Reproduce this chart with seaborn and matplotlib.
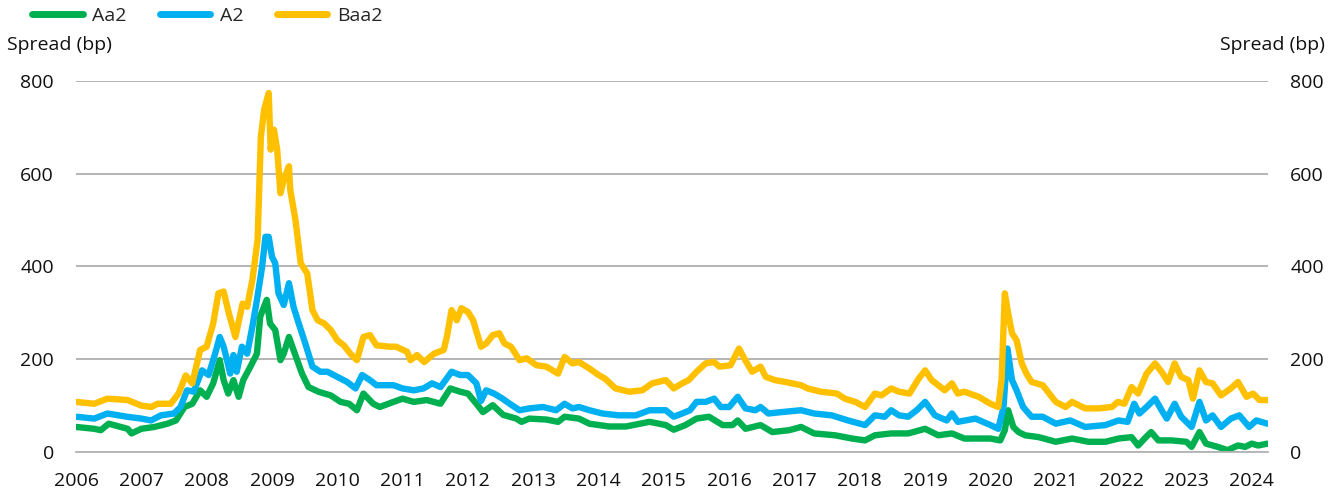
import pandas as pd
import matplotlib.pyplot as plt
import seaborn as sns

# Credit spreads by rating (years as decimals)
baa2_t = [2006.00, 2006.28, 2006.48, 2006.79, 2007.00, 2007.15, 2007.25, 2007.45, 2007.57, 2007.68,
          2007.78, 2007.90, 2008.00, 2008.10, 2008.18, 2008.26, 2008.34, 2008.44, 2008.55, 2008.62,
          2008.70, 2008.78, 2008.83, 2008.88, 2008.95, 2008.98, 2009.03, 2009.08, 2009.13, 2009.18,
          2009.26, 2009.28, 2009.36, 2009.44, 2009.54, 2009.62, 2009.70, 2009.80, 2009.90, 2010.00,
          2010.10, 2010.20, 2010.30, 2010.40, 2010.50, 2010.60, 2010.80, 2010.90, 2011.07, 2011.12,
          2011.22, 2011.33, 2011.48, 2011.63, 2011.68, 2011.75, 2011.83, 2011.90, 2012.00, 2012.08,
          2012.20, 2012.28, 2012.38, 2012.48, 2012.56, 2012.66, 2012.79, 2012.90, 2013.05, 2013.20,
          2013.38, 2013.48, 2013.60, 2013.70, 2013.86, 2014.00, 2014.10, 2014.26, 2014.47, 2014.67,
          2014.82, 2015.03, 2015.15, 2015.28, 2015.38, 2015.50, 2015.64, 2015.77, 2015.85, 2016.02,
          2016.15, 2016.23, 2016.35, 2016.48, 2016.56, 2016.70, 2016.86, 2017.10, 2017.20, 2017.40,
          2017.65, 2017.77, 2017.93, 2018.08, 2018.23, 2018.33, 2018.48, 2018.60, 2018.76, 2018.90,
          2019.00, 2019.10, 2019.30, 2019.41, 2019.50, 2019.60, 2019.82, 2020.00, 2020.12, 2020.17,
          2020.22, 2020.27, 2020.33, 2020.40, 2020.48, 2020.55, 2020.63, 2020.80, 2020.90, 2021.00,
          2021.15, 2021.25, 2021.45, 2021.66, 2021.86, 2021.95, 2022.05, 2022.16, 2022.26, 2022.39,
          2022.52, 2022.62, 2022.72, 2022.82, 2022.92, 2023.03, 2023.10, 2023.20, 2023.30, 2023.40,
          2023.53, 2023.68, 2023.79, 2023.92, 2024.02, 2024.12, 2024.24]
baa2_v = [108, 104, 115, 112, 100, 97, 104, 104, 126, 165,
          148, 220, 227, 277, 342, 346, 299, 248, 320, 313,
          371, 457, 680, 738, 774, 652, 695, 652, 558, 587,
          616, 565, 500, 407, 385, 306, 284, 277, 263, 241,
          230, 212, 198, 248, 252, 230, 227, 227, 216, 198,
          209, 194, 212, 220, 250, 306, 284, 310, 302, 284,
          227, 234, 252, 256, 234, 227, 198, 202, 187, 184,
          169, 205, 191, 194, 180, 166, 158, 137, 130, 133,
          148, 155, 137, 148, 155, 173, 191, 194, 184, 187,
          223, 202, 173, 184, 162, 155, 151, 144, 137, 130,
          126, 115, 108, 97, 126, 122, 137, 130, 126, 158,
          176, 155, 133, 148, 126, 130, 119, 104, 97, 155,
          342, 299, 256, 241, 191, 169, 151, 144, 126, 108,
          97, 108, 94, 94, 97, 108, 104, 140, 126, 169,
          191, 173, 151, 191, 162, 155, 115, 176, 151, 148,
          122, 137, 151, 119, 126, 112, 112]

a2_t = [2006.00, 2006.28, 2006.48, 2006.78, 2007.00, 2007.15, 2007.30, 2007.50, 2007.60, 2007.70,
        2007.80, 2007.93, 2008.03, 2008.13, 2008.20, 2008.26, 2008.30, 2008.36, 2008.41, 2008.46,
        2008.54, 2008.62, 2008.70, 2008.77, 2008.85, 2008.90, 2008.95, 2009.00, 2009.05, 2009.10,
        2009.18, 2009.26, 2009.33, 2009.41, 2009.51, 2009.62, 2009.74, 2009.85, 2010.00, 2010.15,
        2010.28, 2010.38, 2010.50, 2010.60, 2010.86, 2011.00, 2011.17, 2011.32, 2011.45, 2011.58,
        2011.75, 2011.88, 2012.00, 2012.13, 2012.20, 2012.28, 2012.40, 2012.53, 2012.64, 2012.79,
        2012.94, 2013.15, 2013.35, 2013.48, 2013.60, 2013.70, 2013.86, 2014.06, 2014.31, 2014.57,
        2014.78, 2015.03, 2015.15, 2015.28, 2015.40, 2015.50, 2015.64, 2015.77, 2015.87, 2016.00,
        2016.13, 2016.25, 2016.40, 2016.48, 2016.60, 2016.80, 2017.10, 2017.30, 2017.57, 2017.82,
        2018.08, 2018.23, 2018.38, 2018.48, 2018.60, 2018.74, 2018.87, 2019.00, 2019.15, 2019.33,
        2019.41, 2019.50, 2019.77, 2020.00, 2020.12, 2020.20, 2020.26, 2020.33, 2020.40, 2020.50,
        2020.63, 2020.80, 2021.00, 2021.22, 2021.45, 2021.76, 2021.96, 2022.10, 2022.20, 2022.28,
        2022.39, 2022.52, 2022.62, 2022.70, 2022.82, 2022.92, 2023.08, 2023.20, 2023.30, 2023.40,
        2023.53, 2023.68, 2023.81, 2023.96, 2024.07, 2024.24]
a2_v = [76, 72, 83, 76, 72, 68, 79, 83, 97, 133,
        130, 176, 166, 212, 248, 227, 205, 169, 209, 173,
        227, 212, 270, 328, 400, 464, 464, 421, 407, 342,
        317, 364, 313, 277, 234, 184, 173, 173, 162, 151,
        137, 166, 155, 144, 144, 137, 133, 137, 148, 140,
        173, 166, 166, 148, 110, 133, 126, 115, 104, 90,
        94, 97, 90, 104, 94, 97, 90, 83, 79, 79,
        90, 90, 76, 83, 90, 108, 108, 115, 97, 97,
        119, 94, 90, 97, 83, 86, 90, 83, 79, 68,
        58, 79, 76, 90, 79, 76, 90, 108, 79, 68,
        83, 65, 72, 58, 50, 97, 223, 155, 133, 97,
        76, 76, 61, 68, 54, 58, 68, 65, 104, 83,
        97, 115, 90, 72, 104, 76, 54, 108, 68, 79,
        54, 72, 79, 54, 68, 61]

aa2_t = [2006.00, 2006.28, 2006.38, 2006.50, 2006.79, 2006.85, 2007.00, 2007.20, 2007.40, 2007.53,
         2007.66, 2007.78, 2007.90, 2008.00, 2008.10, 2008.20, 2008.26, 2008.33, 2008.41, 2008.49,
         2008.56, 2008.67, 2008.77, 2008.82, 2008.92, 2008.97, 2009.05, 2009.13, 2009.18, 2009.26,
         2009.33, 2009.46, 2009.56, 2009.71, 2009.90, 2010.05, 2010.18, 2010.30, 2010.40, 2010.55,
         2010.65, 2010.86, 2011.00, 2011.17, 2011.37, 2011.58, 2011.73, 2011.88, 2012.00, 2012.13,
         2012.23, 2012.38, 2012.54, 2012.74, 2012.82, 2012.94, 2013.20, 2013.38, 2013.48, 2013.70,
         2013.86, 2014.16, 2014.42, 2014.78, 2015.03, 2015.15, 2015.33, 2015.50, 2015.69, 2015.90,
         2016.05, 2016.13, 2016.25, 2016.48, 2016.66, 2016.92, 2017.10, 2017.30, 2017.62, 2017.88,
         2018.08, 2018.23, 2018.48, 2018.74, 2019.00, 2019.20, 2019.41, 2019.60, 2019.82, 2020.00,
         2020.15, 2020.22, 2020.27, 2020.35, 2020.43, 2020.53, 2020.74, 2021.00, 2021.25, 2021.50,
         2021.76, 2021.96, 2022.16, 2022.26, 2022.36, 2022.46, 2022.57, 2022.77, 2023.00, 2023.08,
         2023.20, 2023.30, 2023.48, 2023.63, 2023.79, 2023.90, 2024.00, 2024.10, 2024.24]
aa2_v = [54, 50, 47, 61, 50, 40, 50, 54, 61, 68,
         97, 104, 133, 119, 148, 198, 155, 126, 155, 119,
         155, 184, 212, 292, 328, 277, 263, 198, 212, 248,
         220, 169, 140, 130, 122, 108, 104, 90, 126, 104,
         97, 108, 115, 108, 112, 104, 137, 130, 126, 104,
         86, 101, 80, 72, 65, 72, 70, 65, 76, 72,
         61, 55, 55, 65, 58, 48, 58, 72, 76, 58,
         58, 68, 50, 58, 43, 47, 54, 40, 36, 29,
         25, 36, 40, 40, 50, 36, 40, 29, 29, 29,
         25, 47, 90, 54, 43, 36, 32, 22, 29, 22,
         22, 29, 32, 14, 29, 43, 25, 25, 22, 11,
         43, 18, 11, 4, 14, 11, 18, 14, 18]

series_names = ["Aa2", "A2", "Baa2"]
series_colors = ["#00B050", "#00B0F0", "#FFC000"]
year_ticks = list(range(2006, 2025))
spread_ticks = [0, 200, 400, 600, 800]

df = pd.concat([
    pd.DataFrame({"year": aa2_t, "spread": aa2_v, "rating": "Aa2"}),
    pd.DataFrame({"year": a2_t, "spread": a2_v, "rating": "A2"}),
    pd.DataFrame({"year": baa2_t, "spread": baa2_v, "rating": "Baa2"}),
], ignore_index=True)

sns.set_style("white")
plt.rcParams["font.family"] = ["Open Sans", "DejaVu Sans"]
plt.rcParams["font.size"] = 14

fig = plt.figure(figsize=(13.43, 4.95), dpi=100)
ax = fig.add_axes([0.0566, 0.0869, 0.8876, 0.7495])

sns.lineplot(data=df, x="year", y="spread", hue="rating", hue_order=series_names,
             palette=series_colors, linewidth=4.6, estimator=None, ax=ax,
             solid_capstyle="round", solid_joinstyle="round")

ax.set_xlim(2006, 2024.25)
ax.set_ylim(0, 800)
ax.set_xticks(year_ticks)
ax.set_xticklabels([str(y) for y in year_ticks])
ax.set_yticks(spread_ticks)
ax.set_xlabel("")
ax.set_ylabel("")

ax.yaxis.grid(True, color="#a0a0a0", linewidth=1.1)
ax.set_axisbelow(True)
for s in ["top", "left", "right"]:
    ax.spines[s].set_visible(False)
ax.spines["bottom"].set_color("#b4b4b4")
ax.spines["bottom"].set_linewidth(1.3)

ax.tick_params(axis="x", direction="out", length=4.5, width=1.1, color="#b4b4b4",
               pad=10, labelsize=14, labelcolor="#111111")
ax.tick_params(axis="y", length=0, pad=16, labelsize=14, labelcolor="#111111",
               labelleft=True, labelright=True)

fig.text(7 / 1343, 1 - 45 / 495, "Spread (bp)", ha="left", va="center", fontsize=14, color="#111111")
fig.text(1325 / 1343, 1 - 45 / 495, "Spread (bp)", ha="right", va="center", fontsize=14, color="#111111")

handles, labels = ax.get_legend_handles_labels()
ax.get_legend().remove()
leg = fig.legend(handles, labels, loc="center left", bbox_to_anchor=(32 / 1343, 1 - 16 / 495),
                 ncol=3, frameon=False, fontsize=14, handlelength=2.6, handletextpad=0.5,
                 columnspacing=1.7, borderaxespad=0, borderpad=0)
for line in leg.get_lines():
    line.set_linewidth(5)
    line.set_solid_capstyle("round")

fig.savefig("out.png", dpi=100)
